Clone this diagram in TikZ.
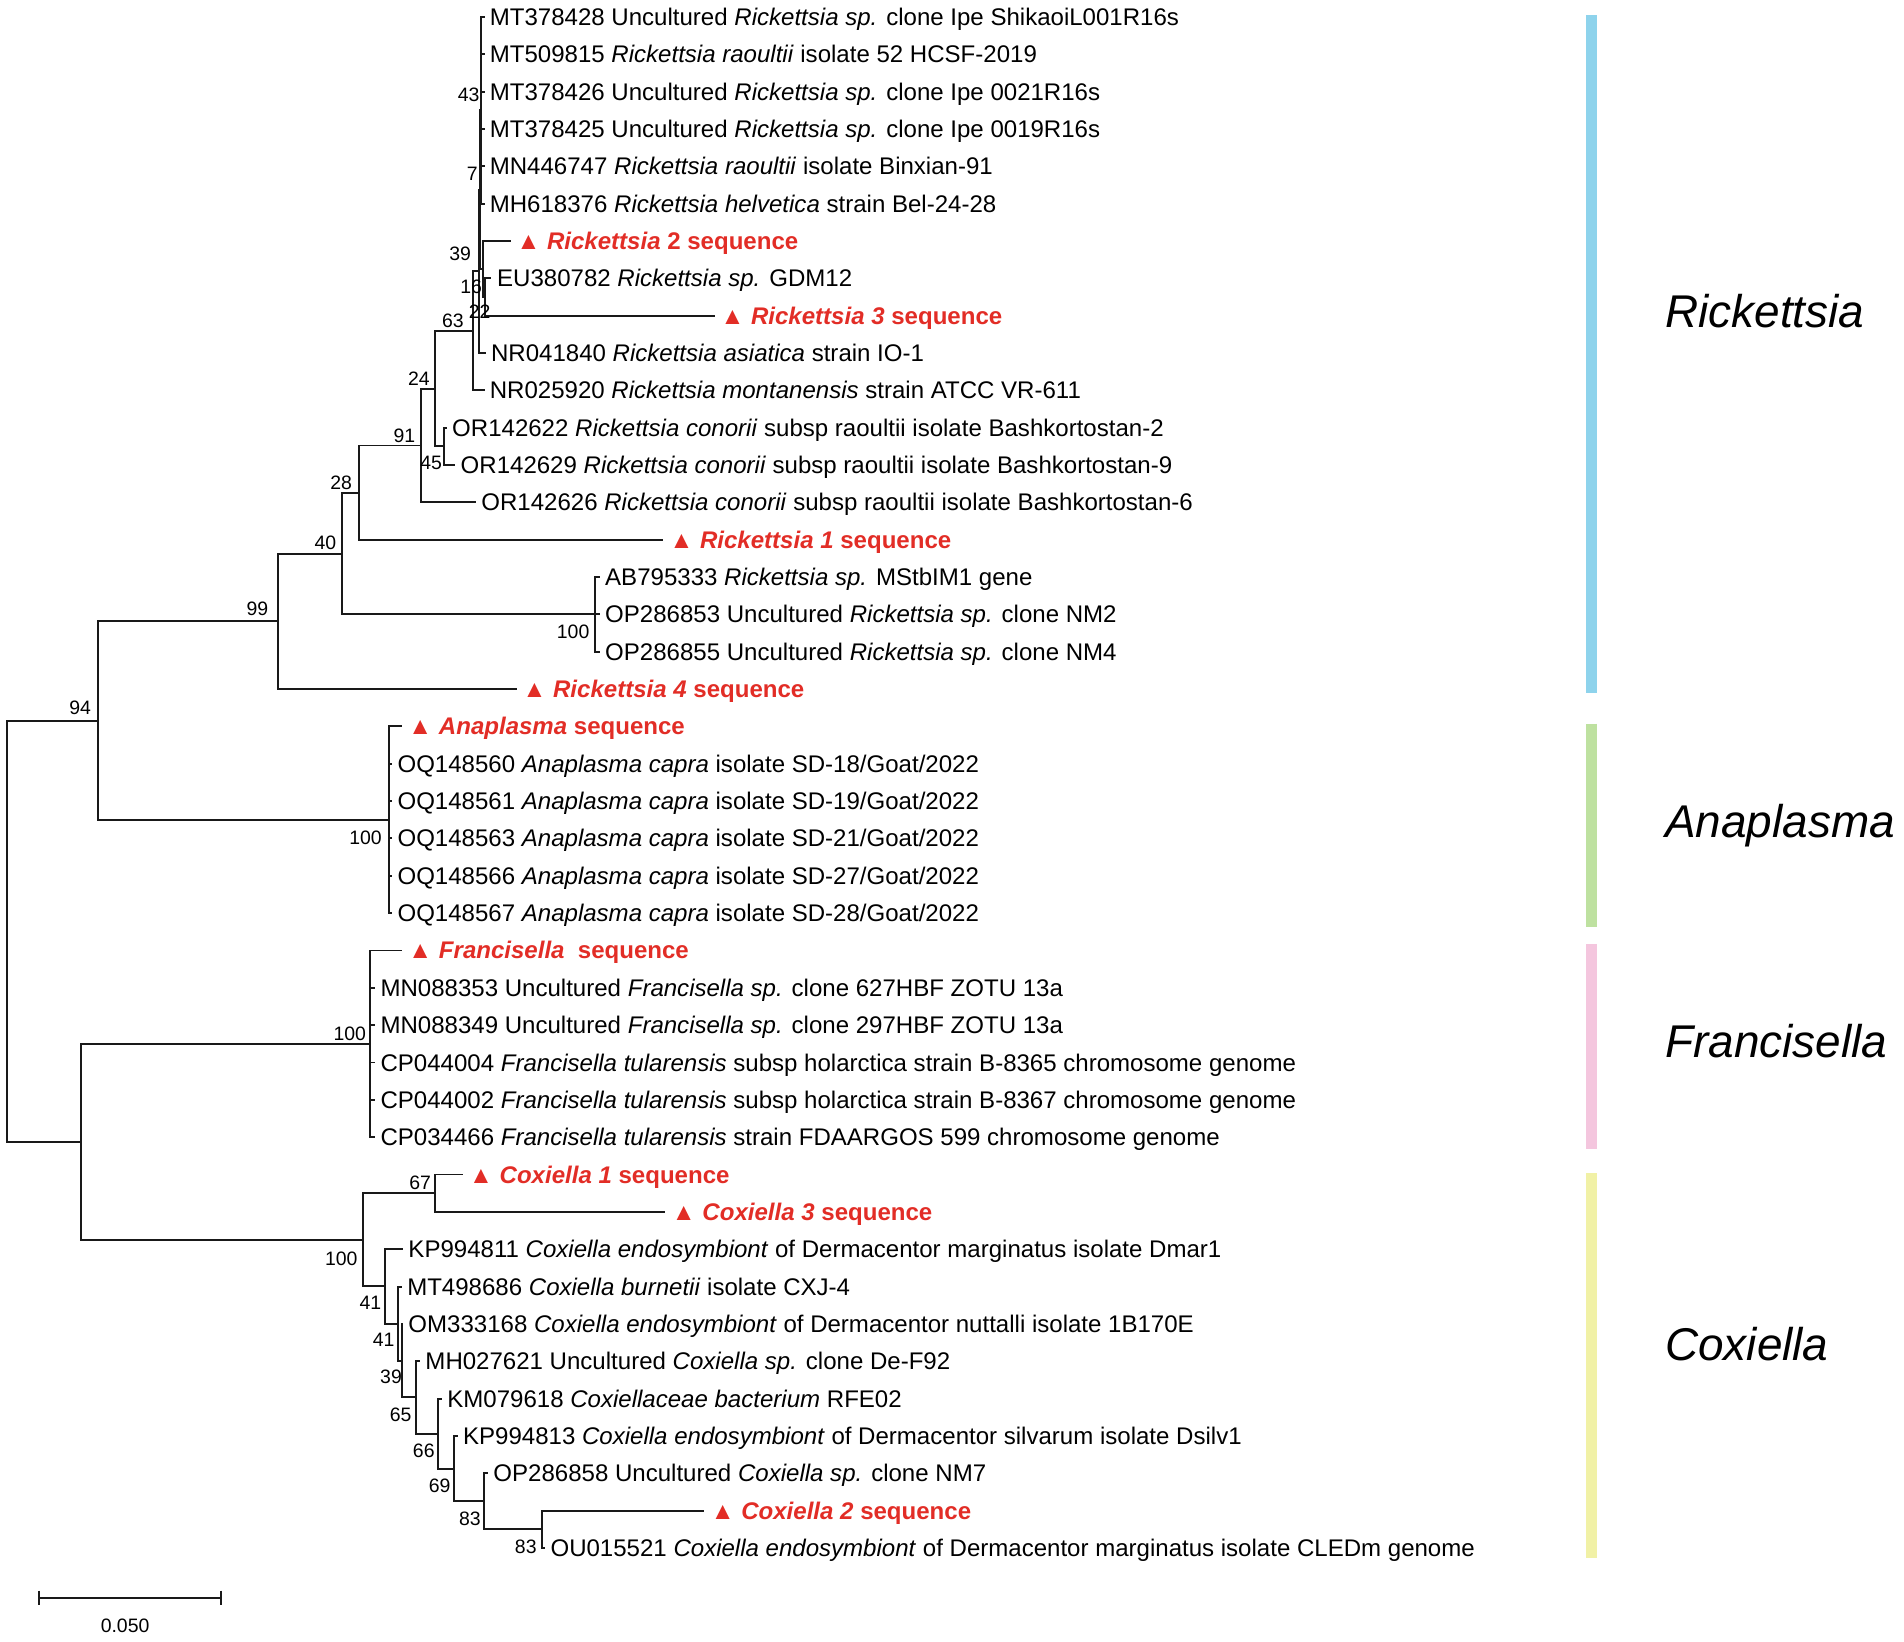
\documentclass[tikz,border=0pt]{standalone}
\usepackage{fontspec}
\setmainfont{Liberation Sans}
\usetikzlibrary{calc}
\definecolor{seqred}{RGB}{226,45,38}
\definecolor{barblue}{RGB}{142,211,236}
\definecolor{bargreen}{RGB}{190,225,160}
\definecolor{barpink}{RGB}{244,198,222}
\definecolor{baryellow}{RGB}{241,241,166}
\begin{document}
\begin{tikzpicture}[x=0.5pt,y=-0.5pt,
  br/.style={line width=0.8pt, black!90},
  leaf/.style={anchor=base west, inner sep=0pt, font=\fontsize{9.9}{12}\selectfont},
  seq/.style={anchor=base west, inner sep=0pt, text=seqred, font=\fontsize{9.9}{12}\selectfont\bfseries},
  bs/.style={inner sep=0pt, font=\fontsize{8}{10}\selectfont},
  grp/.style={anchor=base west, inner sep=0pt, font=\fontsize{18.9}{22}\selectfont\itshape},
  cbar/.style={line width=4.5pt}]
\useasboundingbox (0,0) rectangle (1568,1352.2);
% ---------- leaf tips ----------
\coordinate (l0) at (399,14);
\coordinate (l1) at (399,44.75);
\coordinate (l2) at (399,75.5);
\coordinate (l3) at (399,106.25);
\coordinate (l4) at (399,137);
\coordinate (l5) at (399,167.75);
\coordinate (l6) at (421,198.5);
\coordinate (l7) at (404,229.25);
\coordinate (l8) at (589,260);
\coordinate (l9) at (400,290.75);
\coordinate (l10) at (399,321.5);
\coordinate (l11) at (368,352.25);
\coordinate (l12) at (375,383);
\coordinate (l13) at (392,413.75);
\coordinate (l14) at (546,444.5);
\coordinate (l15) at (494,475.25);
\coordinate (l16) at (494,506);
\coordinate (l17) at (494,536.75);
\coordinate (l18) at (426,567.5);
\coordinate (l19) at (331,598.25);
\coordinate (l20) at (323,629);
\coordinate (l21) at (323,659.75);
\coordinate (l22) at (323,690.5);
\coordinate (l23) at (323,721.25);
\coordinate (l24) at (323,752);
\coordinate (l25) at (331,782.75);
\coordinate (l26) at (309,813.5);
\coordinate (l27) at (309,844.25);
\coordinate (l28) at (309,875);
\coordinate (l29) at (309,905.75);
\coordinate (l30) at (309,936.5);
\coordinate (l31) at (381,967.25);
\coordinate (l32) at (548,998);
\coordinate (l33) at (332,1028.75);
\coordinate (l34) at (331,1059.5);
\coordinate (l35) at (332,1090.25);
\coordinate (l36) at (346,1121);
\coordinate (l37) at (364,1151.75);
\coordinate (l38) at (377,1182.5);
\coordinate (l39) at (402,1213.25);
\coordinate (l40) at (580,1244);
\coordinate (l41) at (449,1274.75);
% ---------- internal nodes ----------
\coordinate (n43) at (395.8,90.9);
\coordinate (n22) at (399.4,244.6);
\coordinate (n39) at (397.5,221.6);
\coordinate (n7) at (395.0,156.2);
\coordinate (n16) at (394.3,223.5);
\coordinate (n63) at (389.7,272.5);
\coordinate (n45) at (365.3,367.6);
\coordinate (n24) at (358,320);
\coordinate (n91) at (347,366.9);
\coordinate (n28) at (296,405.7);
\coordinate (n100r) at (490,506);
\coordinate (n40) at (282,455.9);
\coordinate (n99) at (229,511.7);
\coordinate (n100a) at (320,675.1);
\coordinate (n94) at (81,593.4);
\coordinate (n100f) at (305,859.6);
\coordinate (n67) at (358,982.6);
\coordinate (n83b) at (446,1259.4);
\coordinate (n83a) at (398.6,1236.3);
\coordinate (n69) at (374,1209.4);
\coordinate (n66) at (361,1180.6);
\coordinate (n65) at (342.6,1150.8);
\coordinate (n39c) at (331,1120.5);
\coordinate (n41b) at (328,1090);
\coordinate (n41a) at (317,1059.4);
\coordinate (n100c) at (299,1021);
\coordinate (nFC) at (67,940.3);
\coordinate (root) at (6,766.9);
% ---------- branches ----------
\foreach \c in {l0,l1,l2,l3,l4,l5} \draw[br] (n43) |- (\c);
\draw[br] (n22) |- (l7); \draw[br] (n22) |- (l8);
\draw[br] (n39) |- (l6); \draw[br] (n39) |- (n22);
\draw[br] (n7) |- (n43); \draw[br] (n7) |- (n39);
\draw[br] (n16) |- (n7); \draw[br] (n16) |- (l9);
\draw[br] (n63) |- (n16); \draw[br] (n63) |- (l10);
\draw[br] (n45) |- (l11); \draw[br] (n45) |- (l12);
\draw[br] (n24) |- (n63); \draw[br] (n24) |- (n45);
\draw[br] (n91) |- (n24); \draw[br] (n91) |- (l13);
\draw[br] (n28) |- (n91); \draw[br] (n28) |- (l14);
\foreach \c in {l15,l16,l17} \draw[br] (n100r) |- (\c);
\draw[br] (n40) |- (n28); \draw[br] (n40) |- (n100r);
\draw[br] (n99) |- (n40); \draw[br] (n99) |- (l18);
\foreach \c in {l19,l20,l21,l22,l23,l24} \draw[br] (n100a) |- (\c);
\draw[br] (n94) |- (n99); \draw[br] (n94) |- (n100a);
\foreach \c in {l25,l26,l27,l28,l29,l30} \draw[br] (n100f) |- (\c);
\draw[br] (n67) |- (l31); \draw[br] (n67) |- (l32);
\draw[br] (n83b) |- (l40); \draw[br] (n83b) |- (l41);
\draw[br] (n83a) |- (l39); \draw[br] (n83a) |- (n83b);
\draw[br] (n69) |- (l38); \draw[br] (n69) |- (n83a);
\draw[br] (n66) |- (l37); \draw[br] (n66) |- (n69);
\draw[br] (n65) |- (l36); \draw[br] (n65) |- (n66);
\draw[br] (n39c) |- (l35); \draw[br] (n39c) |- (n65);
\draw[br] (n41b) |- (l34); \draw[br] (n41b) |- (n39c);
\draw[br] (n41a) |- (l33); \draw[br] (n41a) |- (n41b);
\draw[br] (n100c) |- (n67); \draw[br] (n100c) |- (n41a);
\draw[br] (nFC) |- (n100f); \draw[br] (nFC) |- (n100c);
\draw[br] (root) |- (n94); \draw[br] (root) |- (nFC);
% ---------- leaf labels ----------
\path (l0) ++(4,7) node[leaf] (t0) {MT378428 Uncultured \textit{Rickettsia sp.} clone Ipe ShikaoiL001R16s};
\path (l1) ++(4,7) node[leaf] (t1) {MT509815 \textit{Rickettsia raoultii} isolate 52 HCSF-2019};
\path (l2) ++(4,7) node[leaf] (t2) {MT378426 Uncultured \textit{Rickettsia sp.} clone Ipe 0021R16s};
\path (l3) ++(4,7) node[leaf] (t3) {MT378425 Uncultured \textit{Rickettsia sp.} clone Ipe 0019R16s};
\path (l4) ++(4,7) node[leaf] (t4) {MN446747 \textit{Rickettsia raoultii} isolate Binxian-91};
\path (l5) ++(4,7) node[leaf] (t5) {MH618376 \textit{Rickettsia helvetica} strain Bel-24-28};
\path (l6) ++(4,7) node[seq] (t6) {▲ \textit{Rickettsia} 2 sequence};
\path (l7) ++(5,7) node[leaf] (t7) {EU380782 \textit{Rickettsia sp.} GDM12};
\path (l8) ++(4,7) node[seq] (t8) {▲ \textit{Rickettsia 3} sequence};
\path (l9) ++(4,7) node[leaf] (t9) {NR041840 \textit{Rickettsia asiatica} strain IO-1};
\path (l10) ++(4,7) node[leaf] (t10) {NR025920 \textit{Rickettsia montanensis} strain ATCC VR-611};
\path (l11) ++(4,7) node[leaf] (t11) {OR142622 \textit{Rickettsia conorii} subsp raoultii isolate Bashkortostan-2};
\path (l12) ++(4,7) node[leaf] (t12) {OR142629 \textit{Rickettsia conorii} subsp raoultii isolate Bashkortostan-9};
\path (l13) ++(4,7) node[leaf] (t13) {OR142626 \textit{Rickettsia conorii} subsp raoultii isolate Bashkortostan-6};
\path (l14) ++(5,7) node[seq] (t14) {▲ \textit{Rickettsia 1} sequence};
\path (l15) ++(4,7) node[leaf] (t15) {AB795333 \textit{Rickettsia sp.} MStbIM1 gene};
\path (l16) ++(4,7) node[leaf] (t16) {OP286853 Uncultured \textit{Rickettsia sp.} clone NM2};
\path (l17) ++(4,7) node[leaf] (t17) {OP286855 Uncultured \textit{Rickettsia sp.} clone NM4};
\path (l18) ++(4,7) node[seq] (t18) {▲ \textit{Rickettsia 4} sequence};
\path (l19) ++(5,7) node[seq] (t19) {▲ \textit{Anaplasma} sequence};
\path (l20) ++(4,7) node[leaf] (t20) {OQ148560 \textit{Anaplasma capra} isolate SD-18/Goat/2022};
\path (l21) ++(4,7) node[leaf] (t21) {OQ148561 \textit{Anaplasma capra} isolate SD-19/Goat/2022};
\path (l22) ++(4,7) node[leaf] (t22) {OQ148563 \textit{Anaplasma capra} isolate SD-21/Goat/2022};
\path (l23) ++(4,7) node[leaf] (t23) {OQ148566 \textit{Anaplasma capra} isolate SD-27/Goat/2022};
\path (l24) ++(4,7) node[leaf] (t24) {OQ148567 \textit{Anaplasma capra} isolate SD-28/Goat/2022};
\path (l25) ++(5,7) node[seq] (t25) {▲ \textit{Francisella}\ \ sequence};
\path (l26) ++(4,7) node[leaf] (t26) {MN088353 Uncultured \textit{Francisella sp.} clone 627HBF ZOTU 13a};
\path (l27) ++(4,7) node[leaf] (t27) {MN088349 Uncultured \textit{Francisella sp.} clone 297HBF ZOTU 13a};
\path (l28) ++(4,7) node[leaf] (t28) {CP044004 \textit{Francisella tularensis} subsp holarctica strain B-8365 chromosome genome};
\path (l29) ++(4,7) node[leaf] (t29) {CP044002 \textit{Francisella tularensis} subsp holarctica strain B-8367 chromosome genome};
\path (l30) ++(4,7) node[leaf] (t30) {CP034466 \textit{Francisella tularensis} strain FDAARGOS 599 chromosome genome};
\path (l31) ++(5,7) node[seq] (t31) {▲ \textit{Coxiella 1} sequence};
\path (l32) ++(5,7) node[seq] (t32) {▲ \textit{Coxiella 3} sequence};
\path (l33) ++(4,7) node[leaf] (t33) {KP994811 \textit{Coxiella endosymbiont} of Dermacentor marginatus isolate Dmar1};
\path (l34) ++(4,7) node[leaf] (t34) {MT498686 \textit{Coxiella burnetii} isolate CXJ-4};
\path (l35) ++(4,7) node[leaf] (t35) {OM333168 \textit{Coxiella endosymbiont} of Dermacentor nuttalli isolate 1B170E};
\path (l36) ++(4,7) node[leaf] (t36) {MH027621 Uncultured \textit{Coxiella sp.} clone De-F92};
\path (l37) ++(4,7) node[leaf] (t37) {KM079618 \textit{Coxiellaceae bacterium} RFE02};
\path (l38) ++(4,7) node[leaf] (t38) {KP994813 \textit{Coxiella endosymbiont} of Dermacentor silvarum isolate Dsilv1};
\path (l39) ++(4,7) node[leaf] (t39) {OP286858 Uncultured \textit{Coxiella sp.} clone NM7};
\path (l40) ++(5,7) node[seq] (t40) {▲ \textit{Coxiella 2} sequence};
\path (l41) ++(4,7) node[leaf] (t41) {OU015521 \textit{Coxiella endosymbiont} of Dermacentor marginatus isolate CLEDm genome};
% ---------- bootstrap values ----------
\node[bs] (b43) at (386,78) {43};
\node[bs] (b7) at (389,143) {7};
\node[bs] (b39) at (379,209) {39};
\node[bs] (b16) at (388,236) {16};
\node[bs] (b22) at (395,257) {22};
\node[bs] (b63) at (373,264) {63};
\node[bs] (b24) at (345,312) {24};
\node[bs] (b91) at (333,359) {91};
\node[bs] (b45) at (355,381) {45};
\node[bs] (b28) at (281,398) {28};
\node[bs] (b40) at (268,447) {40};
\node[bs] (b99) at (212,501) {99};
\node[bs] (b100r) at (472,520) {100};
\node[bs] (b94) at (66,583) {94};
\node[bs] (b100a) at (301,690) {100};
\node[bs] (b100f) at (288,851) {100};
\node[bs] (b67) at (346,974) {67};
\node[bs] (b100c) at (281,1037) {100};
\node[bs] (b41a) at (305,1073) {41};
\node[bs] (b41b) at (316,1103) {41};
\node[bs] (b39c) at (322,1134) {39};
\node[bs] (b65) at (330,1165) {65};
\node[bs] (b66) at (349,1195) {66};
\node[bs] (b69) at (362,1224) {69};
\node[bs] (b83a) at (387,1251) {83};
\node[bs] (b83b) at (433,1274) {83};
% ---------- clade bars and names ----------
\coordinate (bb1) at (1310.5,12.5); \coordinate (bb2) at (1310.5,571);
\coordinate (bg1) at (1310.5,596); \coordinate (bg2) at (1310.5,763);
\coordinate (bp1) at (1310.5,777); \coordinate (bp2) at (1310.5,946);
\coordinate (by1) at (1310.5,966); \coordinate (by2) at (1310.5,1283);
\draw[cbar, barblue] (bb1) -- (bb2);
\draw[cbar, bargreen] (bg1) -- (bg2);
\draw[cbar, barpink] (bp1) -- (bp2);
\draw[cbar, baryellow] (by1) -- (by2);
\node[grp] (gR) at (1371,269.5) {Rickettsia};
\node[grp] (gA) at (1371,690) {Anaplasma};
\node[grp] (gF) at (1371,870.5) {Francisella};
\node[grp] (gC) at (1371,1120.5) {Coxiella};
% ---------- scale bar ----------
\coordinate (sb1) at (32,1316); \coordinate (sb2) at (182,1316);
\draw[br] (sb1) -- (sb2);
\draw[br] ($(sb1)+(0,-6)$) -- ($(sb1)+(0,6)$);
\draw[br] ($(sb2)+(0,-6)$) -- ($(sb2)+(0,6)$);
\node[bs] (sbl) at (103,1339) {0.050};
\end{tikzpicture}
\end{document}
